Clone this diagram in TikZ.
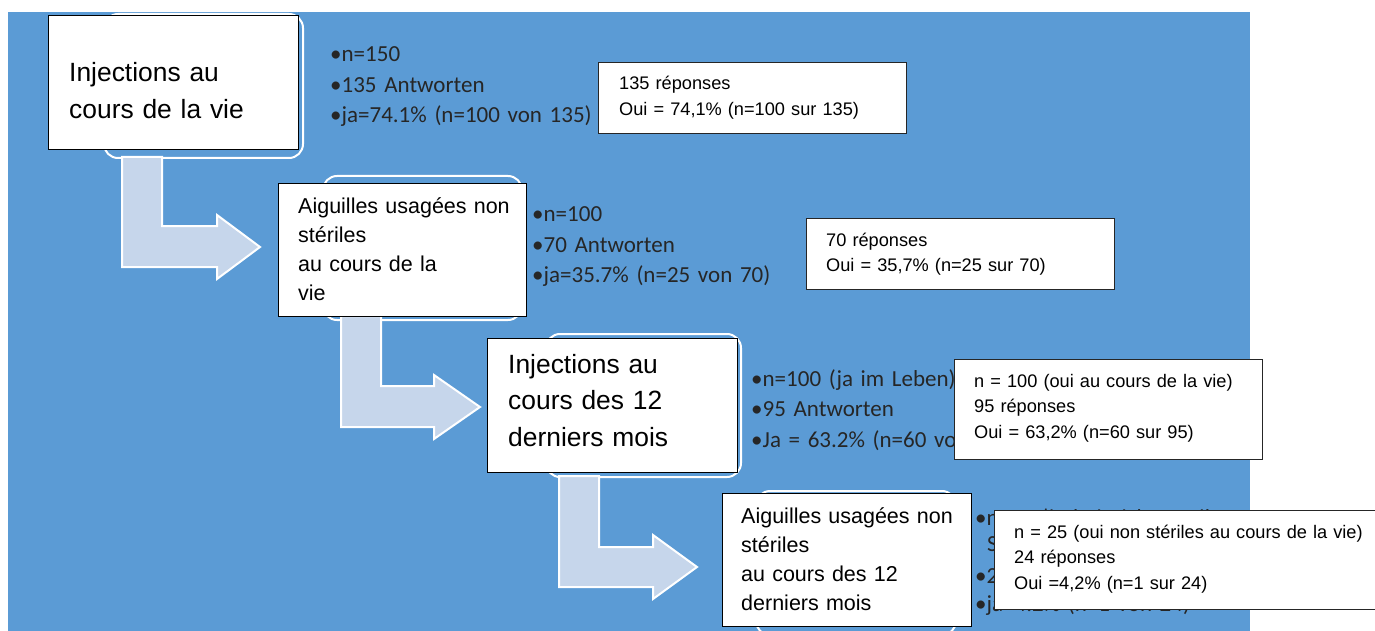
\documentclass[tikz,border=0pt]{standalone}
\usepackage{fontspec}
\setmainfont{Liberation Sans}
\newfontfamily\carlitofont{Carlito}
\definecolor{bgblue}{HTML}{5B9BD5}
\definecolor{arrowfill}{HTML}{C6D6EB}
\begin{document}
\begin{tikzpicture}[x=1pt,y=-1pt,
  outline/.style={draw=white, line width=2pt, rounded corners=14pt, fill=bgblue, inner sep=0, anchor=north west},
  bentarrow/.style={draw=white, line width=2pt, fill=arrowfill, line join=miter},
  mainbox/.style={draw=black, line width=1.2pt, fill=white, inner sep=0, anchor=north west},
  frbox/.style={draw=black!85, line width=1.2pt, fill=white, inner sep=0, anchor=north west},
  bigtext/.style={anchor=base west, inner sep=0, align=left, text width=230pt, font=\fontsize{26.4}{36.5}\selectfont},
  smalltext/.style={anchor=base west, inner sep=0, align=left, text width=230pt, font=\fontsize{21.5}{29.3}\selectfont},
  bullets/.style={anchor=base west, inner sep=0, align=left, text width=330pt, font=\carlitofont\fontsize{23}{30.5}\selectfont, text=black!85},
  frtext/.style={anchor=base west, inner sep=0, align=left, text width=380pt, font=\fontsize{18.2}{25.7}\selectfont},
]
\useasboundingbox (0,0) rectangle (1375,631);
\fill[white] (0,0) rectangle (1375,631);
\fill[bgblue] (8,12) rectangle (1250,640);

% background rounded outlines
\node[outline, minimum width=199pt, minimum height=144pt] (o1) at (103,13) {};
\node[outline, minimum width=199pt, minimum height=144pt] (o2) at (322,175) {};
\node[outline, minimum width=195pt, minimum height=143pt] (o3) at (545,333) {};
\node[outline, minimum width=200pt, minimum height=144pt] (o4) at (755,490) {};

% bent arrows
\draw[bentarrow] (122,157) -- (162,157) -- (162,226) -- (217,226) -- (217,215) -- (260,247)
  -- (217,279) -- (217,267) -- (122,267) -- cycle;
\draw[bentarrow] (341,316) -- (381,316) -- (381,386) -- (434,386) -- (434,375) -- (480,407)
  -- (434,439) -- (434,427) -- (341,427) -- cycle;
\draw[bentarrow] (559,476) -- (599,476) -- (599,547) -- (653,547) -- (653,535) -- (697,567)
  -- (653,599) -- (653,587) -- (559,587) -- cycle;

% main boxes
\node[mainbox, minimum width=250pt, minimum height=134pt] (b1) at (48,15) {};
\node[bigtext] (b1t) at (69,82) {Injections au\\cours de la vie};

\node[mainbox, minimum width=248pt, minimum height=133pt] (b2) at (278,183) {};
\node[smalltext] (b2t) at (298,213) {Aiguilles usagées non\\stériles\\au cours de la\\vie};

\node[mainbox, minimum width=250pt, minimum height=134pt] (b3) at (487,338) {};
\node[bigtext] (b3t) at (508,373) {Injections au\\cours des 12\\derniers mois};

\node[mainbox, minimum width=249pt, minimum height=133pt] (b4) at (722,493) {};
\node[smalltext] (b4t) at (741,523) {Aiguilles usagées non\\stériles\\au cours des 12\\derniers mois};

% German bullet texts
\node[bullets] (g1) at (330,62) {•n=150\\•135 Antworten\\•ja=74.1\% (n=100 von 135)};
\node[bullets] (g2) at (532,222) {•n=100\\•70 Antworten\\•ja=35.7\% (n=25 von 70)};
\node[bullets] (g3) at (751,386) {•n=100 (ja im Leben)\\•95 Antworten\\•Ja = 63.2\% (n=60 von 95)};
\node[bullets, font=\carlitofont\fontsize{23}{29}\selectfont] (g4) at (975,525)
  {•n=25 (ja bei nicht sterilen\\[-3pt]\hspace*{12pt}Spritzen im Leben)\\[3pt]•24 Antworten\\[-1pt]•ja=4.2\% (n=1 von 24)};

% French boxes
\node[frbox, minimum width=308pt, minimum height=71pt] (f1) at (598,62) {};
\node[frtext] (f1t) at (619,90) {135 réponses\\Oui = 74,1\% (n=100 sur 135)};

\node[frbox, minimum width=308pt, minimum height=71pt] (f2) at (806,218) {};
\node[frtext] (f2t) at (826,246) {70 réponses\\Oui = 35,7\% (n=25 sur 70)};

\node[frbox, minimum width=308pt, minimum height=100pt] (f3) at (954,359) {};
\node[frtext] (f3t) at (974,387) {n = 100 (oui au cours de la vie)\\95 réponses\\Oui = 63,2\% (n=60 sur 95)};

\node[frbox, minimum width=395pt, minimum height=99pt] (f4) at (994,510) {};
\node[frtext] (f4t) at (1014,538) {n = 25 (oui non stériles au cours de la vie)\\24 réponses\\Oui =4,2\% (n=1 sur 24)};
\end{tikzpicture}
\end{document}
